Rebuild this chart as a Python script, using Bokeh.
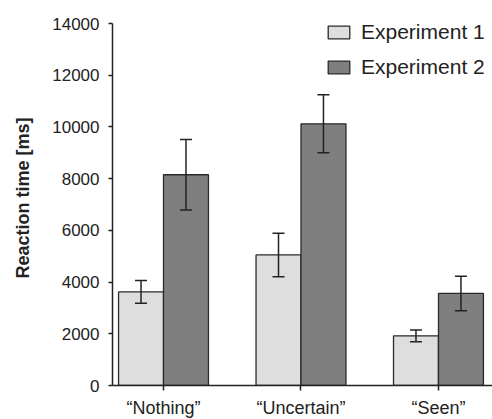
from bokeh.plotting import figure
from bokeh.models import ColumnDataSource, FixedTicker, Whisker, TeeHead, Legend, LegendItem
from bokeh.embed import file_html
from bokeh.resources import INLINE

categories = ["\u201cNothing\u201d", "\u201cUncertain\u201d", "\u201cSeen\u201d"]
series = ["Experiment 1", "Experiment 2"]
exp1_mean = [3620, 5050, 1920]
exp1_err = [440, 840, 230]
exp2_mean = [8150, 10120, 3560]
exp2_err = [1360, 1120, 670]
y_ticks = [0, 2000, 4000, 6000, 8000, 10000, 12000, 14000]

FONT = "Liberation Sans"
BAR_W = 0.327
idx = list(range(len(categories)))

p = figure(frame_width=380, frame_height=375, output_backend="svg", toolbar_location=None,
           x_range=(-0.371, 2.393), y_range=(0, 14503),
           min_border_left=112, min_border_right=0, min_border_top=10, min_border_bottom=30)
p.outline_line_color = None
p.xgrid.visible = False
p.ygrid.visible = False
p.background_fill_color = "white"
p.border_fill_color = "white"

s1 = ColumnDataSource(dict(x=[i - BAR_W / 2 for i in idx], top=exp1_mean,
                           upper=[m + e for m, e in zip(exp1_mean, exp1_err)],
                           lower=[m - e for m, e in zip(exp1_mean, exp1_err)]))
s2 = ColumnDataSource(dict(x=[i + BAR_W / 2 for i in idx], top=exp2_mean,
                           upper=[m + e for m, e in zip(exp2_mean, exp2_err)],
                           lower=[m - e for m, e in zip(exp2_mean, exp2_err)]))

r1 = p.vbar(x="x", top="top", bottom=0, width=BAR_W, source=s1,
            fill_color="#dedede", line_color="#2a2a2a", line_width=1.3)
r2 = p.vbar(x="x", top="top", bottom=0, width=BAR_W, source=s2,
            fill_color="#7f7f7f", line_color="#2a2a2a", line_width=1.3)

for s in (s1, s2):
    w = Whisker(base="x", upper="upper", lower="lower", source=s, level="overlay",
                line_color="#222222", line_width=1.5,
                upper_head=TeeHead(size=12, line_color="#222222", line_width=1.5),
                lower_head=TeeHead(size=12, line_color="#222222", line_width=1.5))
    p.add_layout(w)

# axes
p.yaxis.ticker = FixedTicker(ticks=y_ticks)
p.yaxis.bounds = (y_ticks[0], y_ticks[-1])
p.yaxis.axis_label = "Reaction time [ms]"
p.yaxis.axis_label_text_font = FONT
p.yaxis.axis_label_text_font_style = "bold"
p.yaxis.axis_label_text_font_size = "18px"
p.yaxis.axis_label_text_color = "#222222"
p.yaxis.axis_label_standoff = 16
p.yaxis.major_label_text_font = FONT
p.yaxis.major_label_text_font_size = "17px"
p.yaxis.major_label_text_color = "#222222"
p.yaxis.major_label_standoff = 9
p.yaxis.major_tick_in = 0
p.yaxis.major_tick_out = 4
p.yaxis.minor_tick_line_color = None
p.yaxis.axis_line_color = "#222222"
p.yaxis.axis_line_width = 1.5
p.yaxis.major_tick_line_color = "#222222"
p.yaxis.major_tick_line_width = 1.5

p.xaxis.ticker = FixedTicker(ticks=idx)
p.xaxis.major_label_overrides = {i: c for i, c in zip(idx, categories)}
p.xaxis.major_label_text_font = FONT
p.xaxis.major_label_text_font_size = "18px"
p.xaxis.major_label_text_color = "#222222"
p.xaxis.major_label_standoff = 7
p.xaxis.major_tick_in = 0
p.xaxis.major_tick_out = 5
p.xaxis.minor_tick_line_color = None
p.xaxis.axis_line_color = "#222222"
p.xaxis.axis_line_width = 1.5
p.xaxis.major_tick_line_color = "#222222"
p.xaxis.major_tick_line_width = 1.5

legend = Legend(items=[LegendItem(label=series[0], renderers=[r1]),
                       LegendItem(label=series[1], renderers=[r2])],
                location=(213, 306), orientation="vertical")
legend.background_fill_alpha = 0
legend.border_line_color = None
legend.label_text_font = FONT
legend.label_text_font_size = "21px"
legend.label_text_color = "#222222"
legend.glyph_width = 27
legend.glyph_height = 16
legend.label_standoff = 9
legend.spacing = 11
legend.padding = 0
legend.margin = 0
p.add_layout(legend)

open("out.html", "w").write(file_html(p, INLINE))
